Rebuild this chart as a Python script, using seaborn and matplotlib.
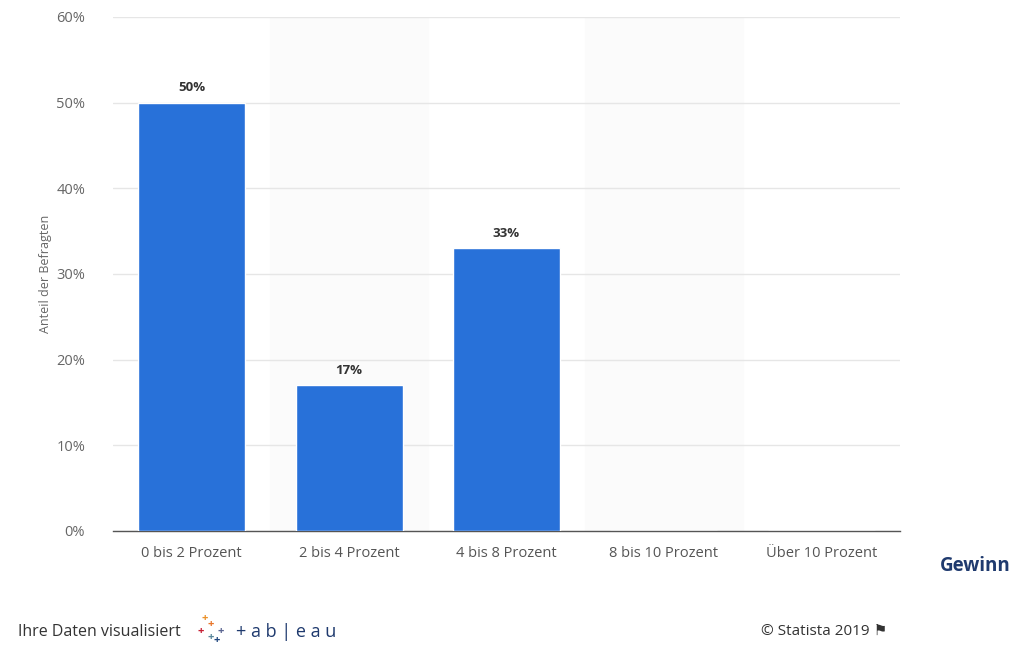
import matplotlib
matplotlib.use("Agg")
import matplotlib.pyplot as plt
import seaborn as sns
import pandas as pd

categories = ["0 bis 2 Prozent", "2 bis 4 Prozent", "4 bis 8 Prozent", "8 bis 10 Prozent", "Über 10 Prozent"]
values = [50, 17, 33, 0, 0]
yticks = [0, 10, 20, 30, 40, 50, 60]

df = pd.DataFrame({"Kategorie": categories, "Anteil": values})

sns.set_theme(style="white")
plt.rcParams["font.family"] = ["Open Sans", "DejaVu Sans"]

fig = plt.figure(figsize=(10.17, 6.48), dpi=100)
ax = fig.add_axes([0.111, 0.1806, 0.774, 0.7932])

# faint alternating bands
for i in range(len(categories)):
    if i % 2 == 1:
        ax.axvspan(i - 0.5, i + 0.5, color="#fbfbfb", zorder=0)

sns.barplot(data=df, x="Kategorie", y="Anteil", color="#2871d9", width=0.68,
            saturation=1, ax=ax, zorder=3)

for i, v in enumerate(values):
    if v > 0:
        ax.text(i, v + 1.0, f"{v}%", ha="center", va="bottom", fontsize=9.5,
                fontweight="bold", color="#333333")

ax.set_ylim(0, 60)
ax.set_xlim(-0.5, len(categories) - 0.5)
ax.set_yticks(yticks)
ax.set_yticklabels([f"{t}%" for t in yticks], fontsize=10.5, color="#666666")
ax.tick_params(axis="x", labelsize=10.5, colors="#555555", length=0, pad=11)
ax.tick_params(axis="y", length=0, pad=20)
ax.grid(axis="y", color="#e6e6e6", linewidth=1, zorder=1)
ax.set_axisbelow(True)
for s in ["top", "right", "left"]:
    ax.spines[s].set_visible(False)
ax.spines["bottom"].set_color("#555555")
ax.spines["bottom"].set_linewidth(1)
ax.set_xlabel("")
ax.set_ylabel("Anteil der Befragten", fontsize=9, color="#666666", labelpad=3)

fig.text(0.924, 0.126, "Gewinn", fontsize=13.5, fontweight="bold", color="#1f3a6e",
         ha="left", va="center")
fig.text(0.018, 0.025, "Ihre Daten visualisiert", fontsize=11.5, color="#333333",
         ha="left", va="center")
# simple tableau mark
logo_colors = ["#e8762b", "#5b6591", "#c72035", "#59879b", "#eb9129", "#1f457e"]
logo_pos = [(0.207, 0.037), (0.217, 0.026), (0.197, 0.026), (0.207, 0.016),
            (0.201, 0.045), (0.213, 0.012)]
for (x, y), c in zip(logo_pos, logo_colors):
    fig.text(x, y, "+", fontsize=8, color=c, ha="center", va="center", fontweight="bold")
fig.text(0.232, 0.025, "+ a b | e a u", fontsize=13, color="#1f3a6e", ha="left",
         va="center")
fig.text(0.872, 0.025, "© Statista 2019 \u2691", fontsize=11, color="#333333",
         ha="right", va="center", family=["Open Sans", "DejaVu Sans"])

fig.savefig("out.png", dpi=100)
